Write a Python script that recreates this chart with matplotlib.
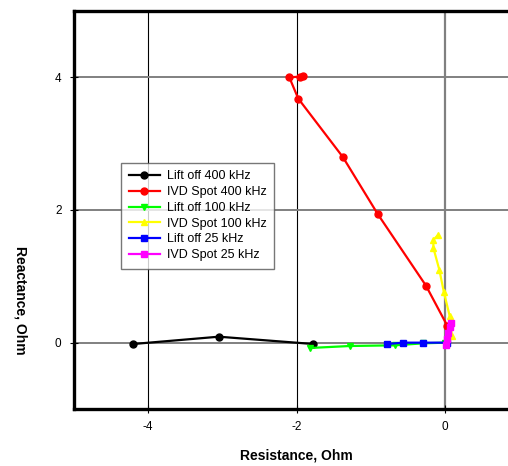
import matplotlib
matplotlib.use("Agg")
import matplotlib.pyplot as plt
import numpy as np

plt.rcParams['font.family'] = ['Liberation Sans', 'DejaVu Sans']
plt.rcParams['axes.unicode_minus'] = False

# Data (Resistance, Reactance in Ohm)
lift400_x = [-4.20, -3.05, -1.78]
lift400_y = [-0.02, 0.09, -0.02]

ivd400_x = [0.03, -0.26, -0.91, -1.38, -1.98, -2.10, -1.96, -1.91]
ivd400_y = [0.25, 0.86, 1.94, 2.80, 3.68, 4.00, 4.01, 4.02]

lift100_x = [-1.82, -1.28, -0.68, -0.30, 0.00]
lift100_y = [-0.08, -0.05, -0.04, -0.01, 0.00]

ivd100_x = [0.02, 0.09, 0.06, -0.02, -0.08, -0.16, -0.16, -0.10]
ivd100_y = [0.00, 0.10, 0.40, 0.77, 1.10, 1.43, 1.55, 1.62]

lift25_x = [-0.78, -0.57, -0.30, 0.02]
lift25_y = [-0.02, 0.00, 0.00, 0.00]

ivd25_x = [0.01, 0.02, 0.04, 0.06, 0.08]
ivd25_y = [-0.03, 0.05, 0.14, 0.23, 0.30]

series = [
    ("Lift off 400 kHz", lift400_x, lift400_y, "black", "o"),
    ("IVD Spot 400 kHz", ivd400_x, ivd400_y, "red", "o"),
    ("Lift off 100 kHz", lift100_x, lift100_y, "#00ff00", "v"),
    ("IVD Spot 100 kHz", ivd100_x, ivd100_y, "yellow", "^"),
    ("Lift off 25 kHz", lift25_x, lift25_y, "blue", "s"),
    ("IVD Spot 25 kHz", ivd25_x, ivd25_y, "magenta", "s"),
]

fig = plt.figure(figsize=(5.08, 4.66), dpi=100)
ax = fig.add_axes([74/508, 1-409/466, 445.5/508, 398/466])
ax.set_xlim(-5, 1)
ax.set_ylim(-1, 5)

# grid lines
for gx, c, lw in [(-4, 'black', 0.8), (-2, 'black', 0.8), (0, 'gray', 1.6)]:
    ax.axvline(gx, color=c, lw=lw, zorder=1)
for gy in [0, 2, 4]:
    ax.axhline(gy, color='gray', lw=1.4, zorder=1)

for label, xs, ys, col, mk in series:
    ax.plot(xs, ys, color=col, marker=mk, markersize=5, lw=1.6, label=label, zorder=3)

ax.set_xticks([-4, -2, 0])
ax.set_yticks([0, 2, 4])
ax.tick_params(direction='inout', length=6, width=0.8, labelsize=8.5, colors='black')
ax.tick_params(axis='x', pad=6)
ax.tick_params(axis='y', pad=6)

for s in ['left', 'top', 'bottom']:
    ax.spines[s].set_linewidth(2.4)
    ax.spines[s].set_color('black')
ax.spines['right'].set_visible(False)

ax.set_xlabel("Resistance, Ohm", fontsize=10, fontweight='bold', labelpad=11)
fig.text(20/508, 1-300/466, "Reactance, Ohm", rotation=-90, fontsize=10,
         fontweight='bold', ha='center', va='center')

leg = ax.legend(loc='upper left', bbox_to_anchor=((121-74)/445.5, (409-163)/398),
                borderaxespad=0, fontsize=9, frameon=True, fancybox=False,
                edgecolor='#555555', handlelength=2.5, labelspacing=0.3,
                borderpad=0.6, handletextpad=0.55)
leg.get_frame().set_linewidth(1.0)

fig.savefig("out.png", dpi=100)
